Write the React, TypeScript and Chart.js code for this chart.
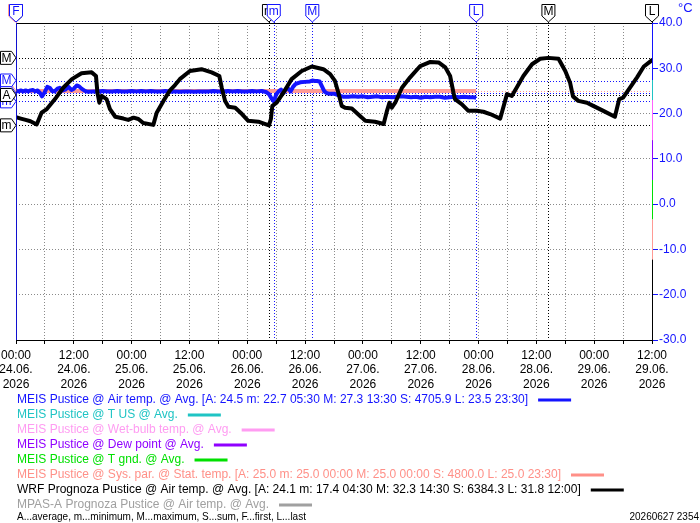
import React, { useEffect, useRef } from 'react';
import { Chart, registerables } from 'chart.js';

Chart.register(...registerables);

// ---------- DATA (hours counted from 24.06.2026 00:00) ----------
const wrfHours = [
  0, 1, 2, 3, 4.3, 5.3, 6.4, 8.1, 9.8, 11.6, 13.6, 15.7, 16.6, 16.9, 17.3, 17.8, 18.8, 19.5, 20.6, 22.3,
  23.3, 24.4, 25.4, 26.4, 28.5, 29.2, 30.6, 32, 33, 34, 36.1, 38.5, 40.6, 42.2, 42.7, 43.4, 44.1, 45.5,
  46.9, 48.2, 50.3, 52.5, 52.9, 53.2, 54.1, 55.5, 57.2, 59.3, 61.4, 63.8, 65.2, 66.2, 66.9, 67.6, 68.3,
  69.7, 71.8, 72.5, 74.5, 76.3, 77.0, 77.5, 78, 78.7, 80.1, 81.8, 83.9, 86, 87.7, 89.1, 90.1, 90.8, 91.1,
  92.5, 93.9, 95.6, 97, 98.4, 100.5, 101.9, 102.9, 103.9, 105.3, 107.1, 108.8, 110.5, 112.6, 114, 115,
  115.6, 116.7, 118.5, 119.8, 121.9, 124.3, 125.2, 126, 127.4, 128.9, 130.3, 132,
];
const wrfTemps = [
  19.2, 18.9, 18.6, 18.3, 17.6, 20.2, 21.0, 23.2, 25.7, 27.6, 28.9, 29.1, 28.3, 24.6, 22.4, 23.9, 23.2, 21.0, 19.3, 18.9,
  18.6, 19.1, 18.8, 17.9, 17.5, 20.2, 22.8, 25.2, 26.3, 27.6, 29.4, 29.8, 29.1, 28.3, 25.7, 22.8, 21.5, 21.3,
  19.9, 18.4, 18.2, 17.4, 18.8, 21.7, 22.4, 24.6, 27.6, 29.4, 30.4, 29.8, 28.7, 27.2, 24.6, 21.7, 21.3,
  21.1, 19.1, 18.4, 18.2, 17.7, 20.6, 22.4, 21.3, 22.4, 25.7, 28.0, 30.5, 31.4, 31.3, 30.2, 28.3, 24.6, 23.2,
  22.1, 20.6, 20.6, 20.4, 19.9, 18.9, 24.3, 23.9, 25.7, 28.3, 30.9, 32.1, 32.3, 32.1, 29.4, 26.8,
  23.8, 22.8, 22.4, 21.7, 20.6, 19.3, 23.2, 23.5, 25.7, 28.0, 30.4, 31.8,
];

const airHours = [
  0, 0.5, 1, 1.5, 2, 2.5, 3, 3.5, 4, 4.5, 5, 5.4, 5.9, 6.5, 7, 7.5, 8, 8.6, 9.1, 9.6, 10.2, 10.9, 11.5, 12,
  12.6, 13.1, 13.6, 14.3, 15, 16, 17, 18, 19, 20, 21, 22, 23, 24, 25, 26, 27, 28, 29, 30, 31, 32, 33, 34, 35,
  36, 37, 38, 39, 40, 41, 42, 43, 44, 45, 46, 47, 48, 49, 50, 51, 52, 52.5, 53, 53.5, 54, 54.5, 55, 55.5, 56,
  56.5, 57, 57.5, 58, 58.5, 59, 60, 61, 61.5, 62, 62.5, 63, 63.5, 64, 64.5, 65, 66, 67, 68, 69, 70, 71, 72,
  73, 74, 75, 76, 77, 78, 79, 80, 81, 82, 83, 84, 85, 86, 87, 88, 89, 90, 91, 92, 93, 94, 95, 95.5,
];
const airTemps = [
  25.0, 24.9, 25.1, 24.9, 25.1, 24.9, 25.1, 25.2, 24.9, 25.1, 24.5, 23.8, 24.6, 25.9, 25.7, 25.0, 24.9, 25.5, 25.7, 25.1, 25.3, 25.9, 25.2, 25.5,
  26.2, 26.0, 25.5, 25.0, 24.8, 24.9, 24.9, 25.0, 24.9, 24.9, 25.0, 24.9, 24.9, 25.0, 24.9, 25.0, 24.9, 25.0, 24.9, 24.9, 25.0, 24.8, 24.9, 24.8, 24.9,
  24.9, 24.8, 24.9, 24.9, 24.9, 25.0, 24.9, 24.9, 25.0, 24.9, 25.0, 24.9, 24.9, 25.0, 24.9, 25.0, 24.7, 24.3, 23.4, 22.7, 24.2, 24.9, 25.3, 24.5, 25.4,
  25.5, 24.9, 25.9, 26.5, 26.7, 26.9, 27.0, 27.1, 27.3, 27.2, 27.2, 27.1, 26.0, 24.9, 24.5, 24.4, 24.4, 24.0, 23.7, 23.7, 23.8, 23.7, 23.8,
  23.6, 23.7, 23.8, 23.6, 23.7, 23.6, 23.7, 23.8, 23.7, 23.6, 23.7, 23.5, 23.7, 23.6, 23.7, 23.7, 23.5, 23.6, 23.7, 23.6, 23.7, 23.6, 23.6, 23.5,
];

const statHours = [0, 95.5];
const statTemps = [25.0, 25.0];

// summary statistics (average, min, max, last) shown as reference lines/markers
const airStat = { avg: 24.5, minH: 53.5, min: 22.7, maxH: 61.5, max: 27.3, lastH: 95.5, last: 23.5 };
const wrfStat = { avg: 24.1, minH: 52.5, min: 17.4, maxH: 110.5, max: 32.3, lastH: 132, last: 31.8 };
const sysStat = { avg: 25.0, minH: 0, min: 25.0, maxH: 0, max: 25.0, lastH: 95.5, last: 25.0 };

// axis labels
const xLabelTimes = ['00:00', '12:00', '00:00', '12:00', '00:00', '12:00', '00:00', '12:00', '00:00', '12:00', '00:00', '12:00'];
const xLabelDates = ['24.06.', '24.06.', '25.06.', '25.06.', '26.06.', '26.06.', '27.06.', '27.06.', '28.06.', '28.06.', '29.06.', '29.06.'];
const xLabelYear = '2026';

const legendTexts = [
  'MEIS Pustice @ Air temp. @ Avg. [A: 24.5 m: 22.7 05:30 M: 27.3 13:30 S: 4705.9 L: 23.5 23:30]',
  'MEIS Pustice @ T US @ Avg.',
  'MEIS Pustice @ Wet-bulb temp. @ Avg.',
  'MEIS Pustice @ Dew point @ Avg.',
  'MEIS Pustice @ T gnd. @ Avg.',
  'MEIS Pustice @ Sys. par. @ Stat. temp. [A: 25.0 m: 25.0 00:00 M: 25.0 00:00 S: 4800.0 L: 25.0 23:30]',
  'WRF Prognoza Pustice @ Air temp. @ Avg. [A: 24.1 m: 17.4 04:30 M: 32.3 14:30 S: 6384.3 L: 31.8 12:00]',
  'MPAS-A Prognoza Pustice @ Air temp. @ Avg.',
];
const legendColors = ['#1414ff', '#1fc4c4', '#ff9cf2', '#9000ff', '#00e000', '#ff9088', '#000000', '#a0a0a0'];
const footnote = 'A...average, m...minimum, M...maximum, S...sum, F...first, L...last';
const stamp = '20260627 2354';

const BLUE = '#1414ff';
const SALMON = '#ff9a94';
const BLACK = '#000000';
const FONT = '"Liberation Sans", Arial, sans-serif';

function topMarker(ctx: CanvasRenderingContext2D, x: number, letter: string, color: string) {
  const w = 6.5;
  ctx.beginPath();
  ctx.moveTo(x - w, 4.5);
  ctx.lineTo(x + w, 4.5);
  ctx.lineTo(x + w, 16);
  ctx.lineTo(x, 22);
  ctx.lineTo(x - w, 16);
  ctx.closePath();
  ctx.fillStyle = '#ffffff';
  ctx.fill();
  ctx.lineWidth = 1;
  ctx.strokeStyle = color;
  ctx.stroke();
  ctx.fillStyle = color;
  ctx.font = '12px ' + FONT;
  ctx.textAlign = 'center';
  ctx.textBaseline = 'middle';
  ctx.fillText(letter, x, 11.5);
}

function leftMarker(ctx: CanvasRenderingContext2D, y: number, letter: string, color: string) {
  const h = 6.5;
  ctx.beginPath();
  ctx.moveTo(0.5, y - h);
  ctx.lineTo(11.5, y - h);
  ctx.lineTo(16, y);
  ctx.lineTo(11.5, y + h);
  ctx.lineTo(0.5, y + h);
  ctx.closePath();
  ctx.fillStyle = '#ffffff';
  ctx.fill();
  ctx.lineWidth = 1;
  ctx.strokeStyle = color;
  ctx.stroke();
  ctx.fillStyle = color;
  ctx.font = '12px ' + FONT;
  ctx.textAlign = 'center';
  ctx.textBaseline = 'middle';
  ctx.fillText(letter, 6.5, y + 0.5);
}

const overlayPlugin = {
  id: 'overlay',
  beforeDatasetsDraw(chart: any) {
    const { ctx, chartArea: a, scales } = chart;
    const xs = scales.x;
    const ys = scales.y;
    ctx.save();
    ctx.lineWidth = 1;
    ctx.setLineDash([1, 2]);
    const groups = [
      { s: sysStat, c: SALMON },
      { s: airStat, c: BLUE },
      { s: wrfStat, c: BLACK },
    ];
    for (const g of groups) {
      ctx.strokeStyle = g.c;
      for (const v of [g.s.max, g.s.avg, g.s.min]) {
        const py = Math.round(ys.getPixelForValue(v)) + 0.5;
        ctx.beginPath();
        ctx.moveTo(a.left, py);
        ctx.lineTo(a.right, py);
        ctx.stroke();
      }
      for (const h of [g.s.minH, g.s.maxH, g.s.lastH]) {
        const px = Math.round(xs.getPixelForValue(h)) + 0.5;
        ctx.beginPath();
        ctx.moveTo(px, a.top - 1);
        ctx.lineTo(px, a.bottom);
        ctx.stroke();
      }
    }
    ctx.restore();
  },
  afterDraw(chart: any) {
    const { ctx, chartArea: a, scales } = chart;
    const xs = scales.x;
    const ys = scales.y;
    ctx.save();
    ctx.setLineDash([]);
    // top border
    ctx.strokeStyle = '#000';
    ctx.lineWidth = 1;
    ctx.beginPath();
    ctx.moveTo(a.left, a.top + 0.5);
    ctx.lineTo(a.right, a.top + 0.5);
    ctx.stroke();
    // left axis line
    ctx.strokeStyle = '#1010d0';
    ctx.beginPath();
    ctx.moveTo(a.left + 0.5, a.top);
    ctx.lineTo(a.left + 0.5, a.bottom);
    ctx.stroke();
    // right axis line made of series colours
    const segs = [
      [0, 0.18, BLUE], [0.18, 0.243, '#1fc4c4'], [0.243, 0.37, '#ff60ff'], [0.37, 0.495, '#9000ff'],
      [0.495, 0.62, '#00e000'], [0.62, 0.747, SALMON], [0.747, 1, '#000000'],
    ];
    const rx = a.right + 0.5;
    const hgt = a.bottom - a.top;
    for (const [f0, f1, col] of segs as any) {
      ctx.strokeStyle = col;
      ctx.beginPath();
      ctx.moveTo(rx, a.top + f0 * hgt);
      ctx.lineTo(rx, a.top + f1 * hgt);
      ctx.stroke();
    }
    // unit
    ctx.fillStyle = BLUE;
    ctx.font = '13px ' + FONT;
    ctx.textAlign = 'left';
    ctx.textBaseline = 'middle';
    ctx.fillText('°C', 678, 8);

    // top markers (time)
    const X = (h: number) => xs.getPixelForValue(h);
    const Y = (v: number) => ys.getPixelForValue(v);
    topMarker(ctx, X(wrfStat.minH), 'm', BLACK);
    topMarker(ctx, X(wrfStat.maxH), 'M', BLACK);
    topMarker(ctx, X(wrfStat.lastH), 'L', BLACK);
    topMarker(ctx, X(0), 'F', BLACK);
    topMarker(ctx, X(sysStat.minH) - 1, 'F', SALMON);
    topMarker(ctx, X(sysStat.lastH), 'L', SALMON);
    topMarker(ctx, X(0), 'F', BLUE);
    topMarker(ctx, X(airStat.minH), 'm', BLUE);
    topMarker(ctx, X(airStat.maxH), 'M', BLUE);
    topMarker(ctx, X(airStat.lastH), 'L', BLUE);

    // left markers (value)
    leftMarker(ctx, Y(sysStat.avg), 'A', SALMON);
    leftMarker(ctx, Y(airStat.max), 'M', BLUE);
    leftMarker(ctx, Y(airStat.min), 'm', BLUE);
    leftMarker(ctx, Y(airStat.avg), 'A', BLUE);
    leftMarker(ctx, Y(wrfStat.max), 'M', BLACK);
    leftMarker(ctx, Y(wrfStat.min), 'm', BLACK);
    leftMarker(ctx, Y(wrfStat.avg), 'A', BLACK);

    // legend
    ctx.font = '12px ' + FONT;
    ctx.textAlign = 'left';
    ctx.textBaseline = 'middle';
    legendTexts.forEach((t, i) => {
      const y = 400 + i * 15;
      ctx.fillStyle = legendColors[i];
      ctx.fillText(t, 17, y);
      const w = ctx.measureText(t).width;
      ctx.strokeStyle = legendColors[i];
      ctx.lineWidth = 3;
      ctx.beginPath();
      ctx.moveTo(17 + w + 10, y);
      ctx.lineTo(17 + w + 43, y);
      ctx.stroke();
    });
    ctx.font = '10px ' + FONT;
    ctx.fillStyle = '#000';
    ctx.fillText(footnote, 17, 517);
    ctx.textAlign = 'right';
    ctx.fillText(stamp, 699, 517);
    ctx.restore();
  },
};

export default function App() {
  const ref = useRef<HTMLCanvasElement | null>(null);
  useEffect(() => {
    const canvas = ref.current;
    if (!canvas) return;
    const toPts = (hs: number[], vs: number[]) => hs.map((h, i) => ({ x: h, y: vs[i] }));
    const chart = new Chart(canvas, {
      type: 'line',
      data: {
        datasets: [
          {
            label: 'WRF Prognoza Pustice @ Air temp. @ Avg.',
            data: toPts(wrfHours, wrfTemps),
            borderColor: BLACK,
            borderWidth: 4,
            pointRadius: 0,
            tension: 0,
            borderJoinStyle: 'round',
            borderCapStyle: 'round',
          },
          {
            label: 'MEIS Pustice @ Air temp. @ Avg.',
            data: toPts(airHours, airTemps),
            borderColor: BLUE,
            borderWidth: 4,
            pointRadius: 0,
            tension: 0,
            borderJoinStyle: 'round',
          },
          {
            label: 'MEIS Pustice @ Sys. par. @ Stat. temp.',
            data: toPts(statHours, statTemps),
            borderColor: SALMON,
            borderWidth: 4,
            pointRadius: 0,
            tension: 0,
          },
        ],
      },
      options: {
        responsive: false,
        animation: false,
        devicePixelRatio: 1,
        layout: { padding: { left: 16, top: 23, right: 0, bottom: 0 } },
        plugins: { legend: { display: false }, tooltip: { enabled: false } },
        events: [],
        scales: {
          x: {
            type: 'linear',
            min: 0,
            max: 132,
            afterFit: (s: any) => { s.height = 183; s.paddingLeft = 0; s.paddingRight = 0; },
            grid: {
              color: '#8a8a8a',
              lineWidth: 1,
              tickColor: '#000',
              tickLength: 4,
              tickBorderDash: [],
            },
            border: { display: true, color: '#000', width: 1, dash: [1, 2] },
            ticks: {
              stepSize: 6,
              autoSkip: false,
              maxRotation: 0,
              padding: 4,
              color: '#000',
              font: { family: FONT, size: 12, lineHeight: 1.22 },
              callback: (v: any) => {
                const n = Number(v);
                if (n % 12 !== 0) return '';
                const i = n / 12;
                return [xLabelTimes[i], xLabelDates[i], xLabelYear];
              },
            },
          },
          y: {
            type: 'linear',
            position: 'right',
            min: -30,
            max: 40,
            afterFit: (s: any) => { s.width = 48; s.paddingTop = 0; s.paddingBottom = 0; },
            grid: {
              color: '#8a8a8a',
              lineWidth: 1,
              tickColor: BLUE,
              tickLength: 6,
              tickBorderDash: [],
            },
            border: { display: false, dash: [1, 2] },
            ticks: {
              stepSize: 10,
              padding: 1,
              color: BLUE,
              font: { family: FONT, size: 12 },
              callback: (v: any) => Number(v).toFixed(1),
            },
          },
        },
      },
      plugins: [overlayPlugin],
    } as any);
    return () => chart.destroy();
  }, []);
  return (
    <div style={{ position: 'fixed', left: 0, top: 0, width: 700, height: 523, background: '#fff' }}>
      <canvas ref={ref} width={700} height={523} style={{ width: 700, height: 523, display: 'block' }} />
    </div>
  );
}
